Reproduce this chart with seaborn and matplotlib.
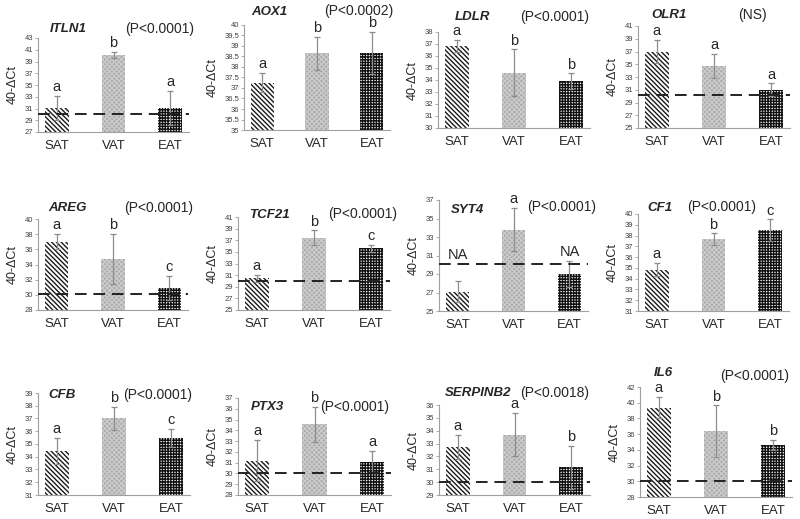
import pandas as pd
import seaborn as sns
import matplotlib.pyplot as plt

tissues = ["SAT", "VAT", "EAT"]
genes = ["ITLN1", "AOX1", "LDLR", "OLR1",
         "AREG", "TCF21", "SYT4", "CF1",
         "CFB", "PTX3", "SERPINB2", "IL6"]
p_labels = ["(P<0.0001)", "(P<0.0002)", "(P<0.0001)", "(NS)",
            "(P<0.0001)", "(P<0.0001)", "(P<0.0001)", "(P<0.0001)",
            "(P<0.0001)", "(P<0.0001)", "(P<0.0018)", "(P<0.0001)"]
means = [[31.1, 40.1, 31.1], [37.25, 38.65, 38.65], [36.85, 34.6, 33.9], [37.0, 34.7, 31.0],
         [37.0, 34.7, 30.9], [30.5, 37.4, 35.6], [27.1, 33.8, 29.0], [34.85, 37.65, 38.5],
         [34.45, 37.0, 35.5], [31.2, 34.55, 31.1], [32.75, 33.7, 31.15], [39.35, 36.4, 34.65]]
errors = [[2.0, 0.5, 2.9], [0.45, 0.8, 1.0], [0.5, 1.95, 0.65], [1.8, 1.9, 1.0],
          [1.0, 3.3, 1.6], [0.6, 1.3, 0.6], [1.1, 2.3, 1.4], [0.6, 0.55, 1.0],
          [1.0, 0.9, 0.7], [1.9, 1.65, 1.0], [0.95, 1.65, 1.65], [1.35, 3.25, 0.65]]
letters = [["a", "b", "a"], ["a", "b", "b"], ["a", "b", "b"], ["a", "a", "a"],
           ["a", "b", "c"], ["a", "b", "c"], ["NA", "a", "NA"], ["a", "b", "c"],
           ["a", "b", "c"], ["a", "b", "a"], ["a", "a", "b"], ["a", "b", "b"]]
cutoffs = [30.1, None, None, 30.1, 30.1, 30.0, 30.1, None, None, 30.0, 30.0, 30.0]
y_min = [27, 35, 30, 25, 28, 25, 25, 31, 31, 28, 29, 28]
y_max = [43, 40, 38, 41, 40, 41, 37, 40, 39, 37, 36, 42]
y_step = [2, 0.5, 1, 2, 2, 2, 2, 1, 1, 1, 1, 2]

# panel boxes in pixels: left, top, right, bottom
boxes = [(38, 38, 189, 132), (244, 25, 390, 130), (438, 32, 590, 128), (638, 26, 790, 128),
         (38, 219, 188, 310), (238, 217, 390, 310), (439, 200, 588, 311), (638, 214, 789, 311),
         (38, 393, 190, 495), (238, 398, 391, 495), (439, 405, 590, 495), (640, 387, 792, 497)]
gene_xy = [(68, 29), (269, 12), (473, 17), (669, 15),
           (67, 208), (269, 215), (467, 210), (660, 208),
           (62, 395), (267, 407), (478, 393), (663, 373)]
p_xy = [(160, 29), (359, 11), (555, 17), (752, 15),
        (159, 208), (363, 214), (562, 207), (722, 207),
        (158, 395), (355, 407), (555, 393), (755, 376)]

bar_face = {"SAT": "white", "VAT": "#a8a8a8", "EAT": "white"}
bar_hatch = ["\\\\\\\\\\\\\\", "xxxxxxx", "++++++"]
hatch_col = ["#1a1a1a", "#cacaca", "#111111"]

sns.set_style("white")
plt.rcParams["font.family"] = ["Liberation Sans", "DejaVu Sans"]
plt.rcParams["hatch.linewidth"] = 1.0

W, H = 800, 519
fig = plt.figure(figsize=(8, 5.19), dpi=100)

for i, gene in enumerate(genes):
    l, t, r, b = boxes[i]
    ax = fig.add_axes([l / W, 1 - b / H, (r - l) / W, (b - t) / H])
    df = pd.DataFrame({"tissue": tissues, "value": means[i]})
    sns.barplot(data=df, x="tissue", y="value", hue="tissue", palette=bar_face,
                width=0.42, errorbar=None, legend=False, ax=ax)
    for j, p in enumerate(ax.patches):
        p.set_hatch(bar_hatch[j])
        p.set_edgecolor(hatch_col[j])
        p.set_linewidth(0)
    ax.errorbar(x=range(3), y=means[i], yerr=errors[i], fmt="none",
                ecolor="#8c8c8c", elinewidth=0.9, capsize=2, capthick=0.9)
    if cutoffs[i] is not None:
        ax.axhline(cutoffs[i], color="#222222", lw=1.4, ls=(0, (6, 3.5)), zorder=5)
    for j in range(3):
        top = means[i][j] + errors[i][j]
        if cutoffs[i] is not None:
            top = max(top, cutoffs[i])
        ax.annotate(letters[i][j], (j, top), xytext=(0, 3.5), textcoords="offset points",
                    ha="center", va="baseline", fontsize=10.5)
    ticks = []
    v = y_min[i]
    while v <= y_max[i] + 1e-9:
        ticks.append(v)
        v += y_step[i]
    ax.set_ylim(y_min[i], y_max[i])
    ax.set_yticks(ticks)
    ax.set_yticklabels([f"{v:g}" for v in ticks])
    ax.tick_params(axis="y", labelsize=5.5, labelcolor="#404040", length=2,
                   width=0.6, color="#a0a0a0", pad=1.5, left=True)
    ax.tick_params(axis="x", labelsize=9.5, length=0, pad=6)
    ax.set_xlabel("")
    ax.set_ylabel("40-ΔCt", fontsize=9, labelpad=4)
    sns.despine(ax=ax)
    for s in ["left", "bottom"]:
        ax.spines[s].set_color("#a0a0a0")
        ax.spines[s].set_linewidth(0.8)
    gx, gy = gene_xy[i]
    px, py = p_xy[i]
    fig.text(gx / W, 1 - gy / H, gene, ha="center", va="center",
             fontsize=9.5, fontweight="bold", fontstyle="italic")
    fig.text(px / W, 1 - py / H, p_labels[i], ha="center", va="center", fontsize=10)

fig.savefig("out.png", dpi=100)
